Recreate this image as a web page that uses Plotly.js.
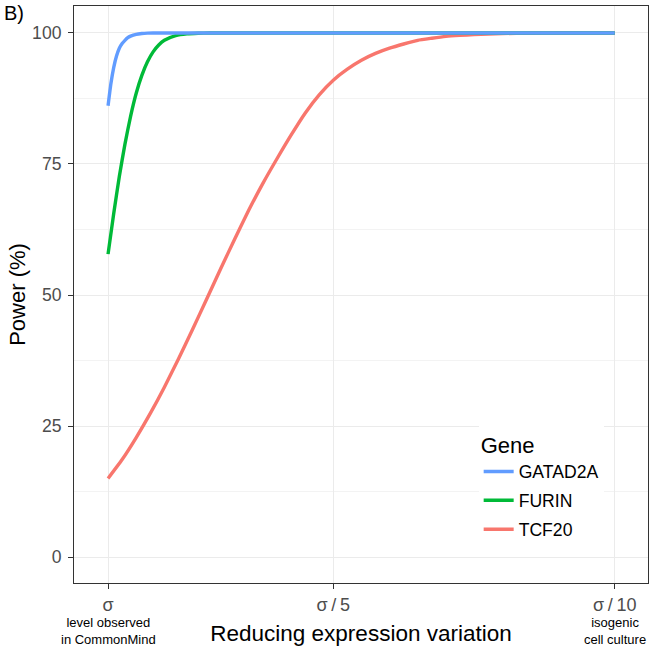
<!DOCTYPE html>
<html>
<head>
<meta charset="utf-8">
<script src="https://cdn.plot.ly/plotly-3.0.1.min.js"></script>
<style>html,body{margin:0;padding:0;background:#fff;}#chart{width:650px;height:646px;}</style>
</head>
<body>
<div id="chart"></div>
<script>
// Reduction factor of expression SD (1 = sigma, 5 = sigma/5, 10 = sigma/10)
const tickVals = [1, 5, 10];
const tickLabels = ['σ', 'σ\u2009/\u20095', 'σ\u2009/\u200910'];

const gatad2aX = [1, 1.05, 1.1, 1.15, 1.2, 1.25, 1.3, 1.35, 1.4, 1.5, 1.6, 1.7, 1.8, 2, 3, 4, 5, 6, 7, 8, 9, 10];
const gatad2aY = [86.1, 90.3, 93.4, 95.6, 97.1, 98.0, 98.6, 99.1, 99.4, 99.75, 99.9, 99.97, 100, 100, 100, 100, 100, 100, 100, 100, 100, 100];

const furinX = [1, 1.1, 1.2, 1.3, 1.4, 1.5, 1.6, 1.7, 1.8, 1.9, 2, 2.2, 2.4, 2.6, 2.8, 3, 4, 5, 6, 7, 8, 9, 10];
const furinY = [57.8, 65.5, 72.6, 78.8, 84.1, 88.5, 91.9, 94.5, 96.4, 97.7, 98.6, 99.5, 99.85, 99.96, 99.99, 100, 100, 100, 100, 100, 100, 100, 100];

const tcf20X = [1, 1.25, 1.5, 1.75, 2, 2.25, 2.5, 2.75, 3, 3.25, 3.5, 3.75, 4, 4.25, 4.5, 4.75, 5, 5.25, 5.5, 5.75, 6, 6.25, 6.5, 6.75, 7, 7.25, 7.5, 7.75, 8, 8.5, 9, 9.5, 10];
const tcf20Y = [15.0, 18.6, 22.8, 27.4, 32.4, 37.8, 43.4, 49.2, 55.0, 60.7, 66.2, 71.3, 76.0, 80.5, 84.7, 88.2, 91.0, 93.1, 94.8, 96.1, 97.1, 97.9, 98.6, 99.0, 99.35, 99.55, 99.7, 99.8, 99.9, 99.96, 100, 100, 100];

const geneNames = ['GATAD2A', 'FURIN', 'TCF20'];
const geneColors = ['#619CFF', '#00BA38', '#F8766D'];

const FONT = 'Liberation Sans, Arial, Helvetica, sans-serif';

// drawn TCF20 first so GATAD2A lies on top; legend ranked GATAD2A, FURIN, TCF20
const traces = [
  {x: tcf20X, y: tcf20Y, i: 2},
  {x: furinX, y: furinY, i: 1},
  {x: gatad2aX, y: gatad2aY, i: 0}
].map(t => ({
  x: t.x, y: t.y, name: geneNames[t.i], type: 'scatter', mode: 'lines',
  line: {color: geneColors[t.i], width: 3.4, shape: 'spline', smoothing: 0.5},
  legendrank: t.i + 1, legendgroup: geneNames[t.i], hoverinfo: 'x+y+name'
}));

const layout = {
  width: 650, height: 646,
  margin: {l: 74, r: 2, t: 6, b: 63, pad: 0},
  paper_bgcolor: '#ffffff', plot_bgcolor: '#ffffff',
  font: {family: FONT, color: '#000000'},
  showlegend: true,
  legend: {
    x: 0.705, y: 0.274, xanchor: 'left', yanchor: 'top',
    bgcolor: '#ffffff', borderwidth: 0,
    traceorder: 'grouped', tracegroupgap: 3,
    font: {family: FONT, size: 17.6, color: '#000000'},
    title: {text: 'Gene', font: {family: FONT, size: 22, color: '#000000'}},
    itemwidth: 30
  },
  xaxis: {
    range: [0.395, 10.59],
    tickmode: 'array', tickvals: tickVals, ticktext: tickLabels,
    tickfont: {family: FONT, size: 18, color: '#4D4D4D'},
    ticks: 'outside', ticklen: 5, tickcolor: '#333333', tickwidth: 1,
    showgrid: true, gridcolor: '#EBEBEB', gridwidth: 1,
    zeroline: false,
    showline: true, linecolor: '#333333', linewidth: 1, mirror: true,
    title: {text: 'Reducing expression variation', font: {family: FONT, size: 22.5, color: '#000000'}, standoff: 11}
  },
  yaxis: {
    range: [-4.96, 105.15],
    tickmode: 'array', tickvals: [0, 25, 50, 75, 100],
    tickfont: {family: FONT, size: 17.6, color: '#4D4D4D'},
    ticks: 'outside', ticklen: 5, tickcolor: '#333333', tickwidth: 1,
    ticklabelstandoff: 3,
    showgrid: true, gridcolor: '#EBEBEB', gridwidth: 1,
    minor: {tickmode: 'array', tickvals: [12.5, 37.5, 62.5, 87.5], showgrid: true, gridcolor: '#F3F3F3', gridwidth: 1, ticks: ''},
    zeroline: false,
    showline: true, linecolor: '#333333', linewidth: 1, mirror: true,
    title: {text: 'Power (%)', font: {family: FONT, size: 22, color: '#000000'}, standoff: 0}
  },
  annotations: [
    {x: 1, xref: 'x', y: 0, yref: 'paper', yanchor: 'top', yshift: -30, showarrow: false,
     text: 'level observed<br>in CommonMind', font: {family: FONT, size: 13, color: '#000000'}, align: 'center'},
    {x: 10, xref: 'x', y: 0, yref: 'paper', yanchor: 'top', yshift: -30, showarrow: false,
     text: 'isogenic<br>cell culture', font: {family: FONT, size: 13, color: '#000000'}, align: 'center'},
    {x: 0, xref: 'paper', xshift: -72, xanchor: 'left', y: 1, yref: 'paper', yshift: 6, yanchor: 'top',
     text: 'B)', showarrow: false, font: {family: FONT, size: 20, color: '#000000'}}
  ]
};

Plotly.newPlot('chart', traces, layout, {displayModeBar: false, staticPlot: true});
</script>
</body>
</html>
